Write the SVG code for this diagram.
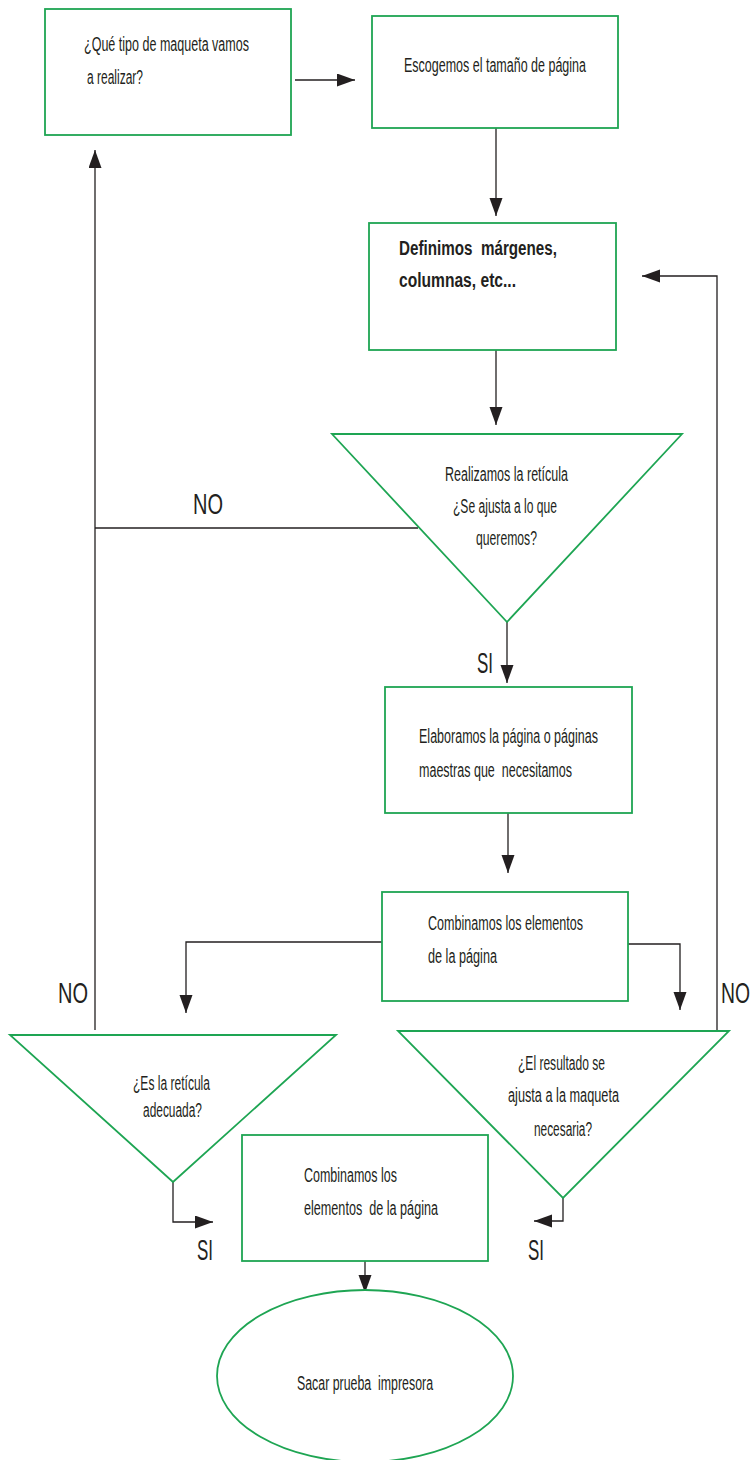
<svg xmlns="http://www.w3.org/2000/svg" width="755" height="1460" viewBox="0 0 755 1460">
<defs>
<style>
.box{fill:#fff;stroke:#1ea553;stroke-width:1.8}
.ln{fill:none;stroke:#231f20;stroke-width:1.3}
.t{font-family:"Liberation Sans Narrow","Liberation Sans",Arial,sans-serif;font-size:20px;fill:#231f20}
.b{font-weight:bold;font-size:20px}
.lab{font-family:"Liberation Sans Narrow","Liberation Sans",Arial,sans-serif;font-size:30px;fill:#231f20}
</style>
<marker id="ah" markerUnits="userSpaceOnUse" markerWidth="20" markerHeight="14" refX="18" refY="6.5" orient="auto">
<path d="M0,0 L18,6.5 L0,13 z" fill="#231f20"/>
</marker>
</defs>
<rect width="755" height="1460" fill="#fff"/>

<g id="connectors">
<path class="ln" d="M295,80 H355" marker-end="url(#ah)"/>
<path class="ln" d="M496,128 V216" marker-end="url(#ah)"/>
<path class="ln" d="M496,350 V425" marker-end="url(#ah)"/>
<path class="ln" d="M507,622 V683" marker-end="url(#ah)"/>
<path class="ln" d="M418,528 H95"/>
<path class="ln" d="M95,1030 V150" marker-end="url(#ah)"/>
<path class="ln" d="M508,813 V873" marker-end="url(#ah)"/>
<path class="ln" d="M382,942 H186 V1013" marker-end="url(#ah)"/>
<path class="ln" d="M628,944 H680 V1010" marker-end="url(#ah)"/>
<path class="ln" d="M173,1182 V1222 H213" marker-end="url(#ah)"/>
<path class="ln" d="M563,1198 V1221 H534" marker-end="url(#ah)"/>
<path class="ln" d="M717,1031 V276 H642" marker-end="url(#ah)"/>
<path class="ln" d="M365,1261 V1293" marker-end="url(#ah)"/>
<text class="lab" x="193" y="514" textLength="30" lengthAdjust="spacingAndGlyphs">NO</text>
<text class="lab" x="477" y="673" textLength="16" lengthAdjust="spacingAndGlyphs">SI</text>
<text class="lab" x="58" y="1003" textLength="30" lengthAdjust="spacingAndGlyphs">NO</text>
<text class="lab" x="750" y="1003" text-anchor="end" textLength="29" lengthAdjust="spacingAndGlyphs">NO</text>
<text class="lab" x="197" y="1260" textLength="16" lengthAdjust="spacingAndGlyphs">SI</text>
<text class="lab" x="528" y="1260" textLength="16" lengthAdjust="spacingAndGlyphs">SI</text>
</g>

<g id="n1">
<rect class="box" x="45" y="9" width="246" height="126"/>
<text class="t" x="84" y="51" textLength="165" lengthAdjust="spacingAndGlyphs">¿Qué tipo de maqueta vamos</text>
<text class="t" x="87" y="84" textLength="56" lengthAdjust="spacingAndGlyphs">a realizar?</text>
</g>

<g id="n2">
<rect class="box" x="372" y="16" width="246" height="112"/>
<text class="t" x="404" y="72" textLength="182" lengthAdjust="spacingAndGlyphs">Escogemos el tamaño de página</text>
</g>

<g id="n3">
<rect class="box" x="369" y="223" width="247" height="127"/>
<text class="t b" x="399" y="255" textLength="158" lengthAdjust="spacingAndGlyphs" xml:space="preserve">Definimos  márgenes,</text>
<text class="t b" x="399" y="287" textLength="117" lengthAdjust="spacingAndGlyphs">columnas, etc...</text>
</g>

<g id="n4">
<polygon class="box" points="332,434 682,434 507,622"/>
<text class="t" x="445" y="481" textLength="123" lengthAdjust="spacingAndGlyphs">Realizamos la retícula</text>
<text class="t" x="453" y="513" textLength="104" lengthAdjust="spacingAndGlyphs">¿Se ajusta a lo que</text>
<text class="t" x="476" y="545" textLength="61" lengthAdjust="spacingAndGlyphs">queremos?</text>
</g>

<g id="n5">
<rect class="box" x="385" y="687" width="247" height="126"/>
<text class="t" x="419" y="743" textLength="179" lengthAdjust="spacingAndGlyphs">Elaboramos la página o páginas</text>
<text class="t" x="419" y="777" textLength="153" lengthAdjust="spacingAndGlyphs" xml:space="preserve">maestras que  necesitamos</text>
</g>

<g id="n6">
<rect class="box" x="382" y="892" width="246" height="109"/>
<text class="t" x="428" y="930" textLength="155" lengthAdjust="spacingAndGlyphs">Combinamos los elementos</text>
<text class="t" x="428" y="963" textLength="69" lengthAdjust="spacingAndGlyphs">de la página</text>
</g>

<g id="n7">
<polygon class="box" points="10,1035 336,1035 173,1182"/>
<text class="t" x="133" y="1090" textLength="77" lengthAdjust="spacingAndGlyphs">¿Es la retícula</text>
<text class="t" x="143" y="1117" textLength="59" lengthAdjust="spacingAndGlyphs">adecuada?</text>
</g>

<g id="n8">
<polygon class="box" points="398,1031 729,1031 563,1198"/>
<text class="t" x="518" y="1070" textLength="87" lengthAdjust="spacingAndGlyphs">¿El resultado se</text>
<text class="t" x="508" y="1102" textLength="111" lengthAdjust="spacingAndGlyphs">ajusta a la maqueta</text>
<text class="t" x="534" y="1136" textLength="58" lengthAdjust="spacingAndGlyphs">necesaria?</text>
</g>

<g id="n9">
<rect class="box" x="242" y="1135" width="246" height="126"/>
<text class="t" x="304" y="1182" textLength="93" lengthAdjust="spacingAndGlyphs">Combinamos los</text>
<text class="t" x="304" y="1215" textLength="134" lengthAdjust="spacingAndGlyphs" xml:space="preserve">elementos  de la página</text>
</g>

<g id="n10">
<ellipse class="box" cx="365" cy="1376" rx="148" ry="86"/>
<text class="t" x="297" y="1390" textLength="136" lengthAdjust="spacingAndGlyphs" xml:space="preserve">Sacar prueba  impresora</text>
</g>
</svg>
